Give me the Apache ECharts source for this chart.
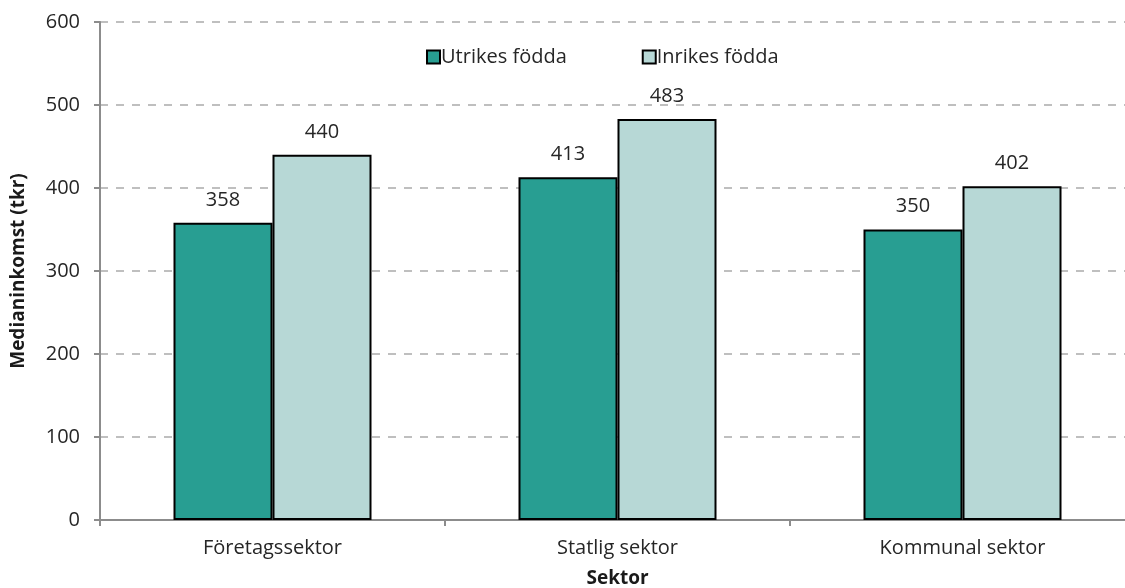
<!DOCTYPE html>
<html>
<head>
<meta charset="utf-8">
<script src="https://cdn.jsdelivr.net/npm/echarts@6/dist/echarts.min.js"></script>
<style>
  html, body { margin: 0; padding: 0; background: #fff; }
  #chart { width: 1125px; height: 588px; }
</style>
</head>
<body>
<div id="chart"></div>
<script>
const categories = ['Företagssektor', 'Statlig sektor', 'Kommunal sektor']
const utrikes = [358, 413, 350]
const inrikes = [440, 483, 402]
const yTicks = [0, 100, 200, 300, 400, 500, 600]

const font = '"Open Sans", sans-serif'
const chart = echarts.init(document.getElementById('chart'), null, { renderer: 'canvas' })

const barLabel = {
  show: true,
  position: 'top',
  distance: 13,
  color: '#262626',
  fontSize: 20,
  fontFamily: font
}

chart.setOption({
  animation: false,
  backgroundColor: '#fff',
  legend: {
    top: 42,
    left: 421,
    icon: 'rect',
    itemWidth: 13,
    itemHeight: 13,
    itemGap: 75,
    textStyle: { color: '#262626', fontSize: 20, fontFamily: font, padding: [0, 0, 0, -4] },
    data: ['Utrikes födda', 'Inrikes födda']
  },
  grid: {
    top: 22,
    left: 100,
    right: -10,
    bottom: 68,
    containLabel: false,
    outerBoundsMode: 'none'
  },
  xAxis: {
    type: 'category',
    data: categories,
    name: 'Sektor',
    nameLocation: 'middle',
    nameGap: 49,
    nameTextStyle: { color: '#1a1a1a', fontSize: 19, fontWeight: 'bold', fontFamily: font },
    axisLine: { lineStyle: { color: '#8c8c8c', width: 2 } },
    axisTick: { show: true, length: 6, lineStyle: { color: '#8c8c8c', width: 2 } },
    axisLabel: { color: '#262626', fontSize: 20, fontFamily: font, margin: 18 }
  },
  yAxis: {
    type: 'value',
    min: 0,
    max: 600,
    interval: 100,
    name: 'Medianinkomst (tkr)',
    nameLocation: 'middle',
    nameGap: 72,
    nameTextStyle: { color: '#1a1a1a', fontSize: 19, fontWeight: 'bold', fontFamily: font },
    axisLine: { show: true, lineStyle: { color: '#8c8c8c', width: 2 } },
    axisTick: { show: true, length: 6, lineStyle: { color: '#8c8c8c', width: 2 } },
    axisLabel: {
      color: '#262626', fontSize: 20, fontFamily: font, margin: 20,
      formatter: (v) => yTicks.includes(v) ? String(v) : ''
    },
    splitLine: { show: true, lineStyle: { color: '#bfbfbf', width: 2, type: [8, 8] } }
  },
  series: [
    {
      name: 'Utrikes födda',
      type: 'bar',
      data: utrikes,
      barWidth: 99,
      barGap: '0%',
      itemStyle: { color: '#289e92', borderColor: '#000', borderWidth: 2 },
      label: barLabel
    },
    {
      name: 'Inrikes födda',
      type: 'bar',
      data: inrikes,
      barWidth: 99,
      barGap: '0%',
      itemStyle: { color: '#b7d8d6', borderColor: '#000', borderWidth: 2 },
      label: barLabel
    }
  ]
})
</script>
</body>
</html>
